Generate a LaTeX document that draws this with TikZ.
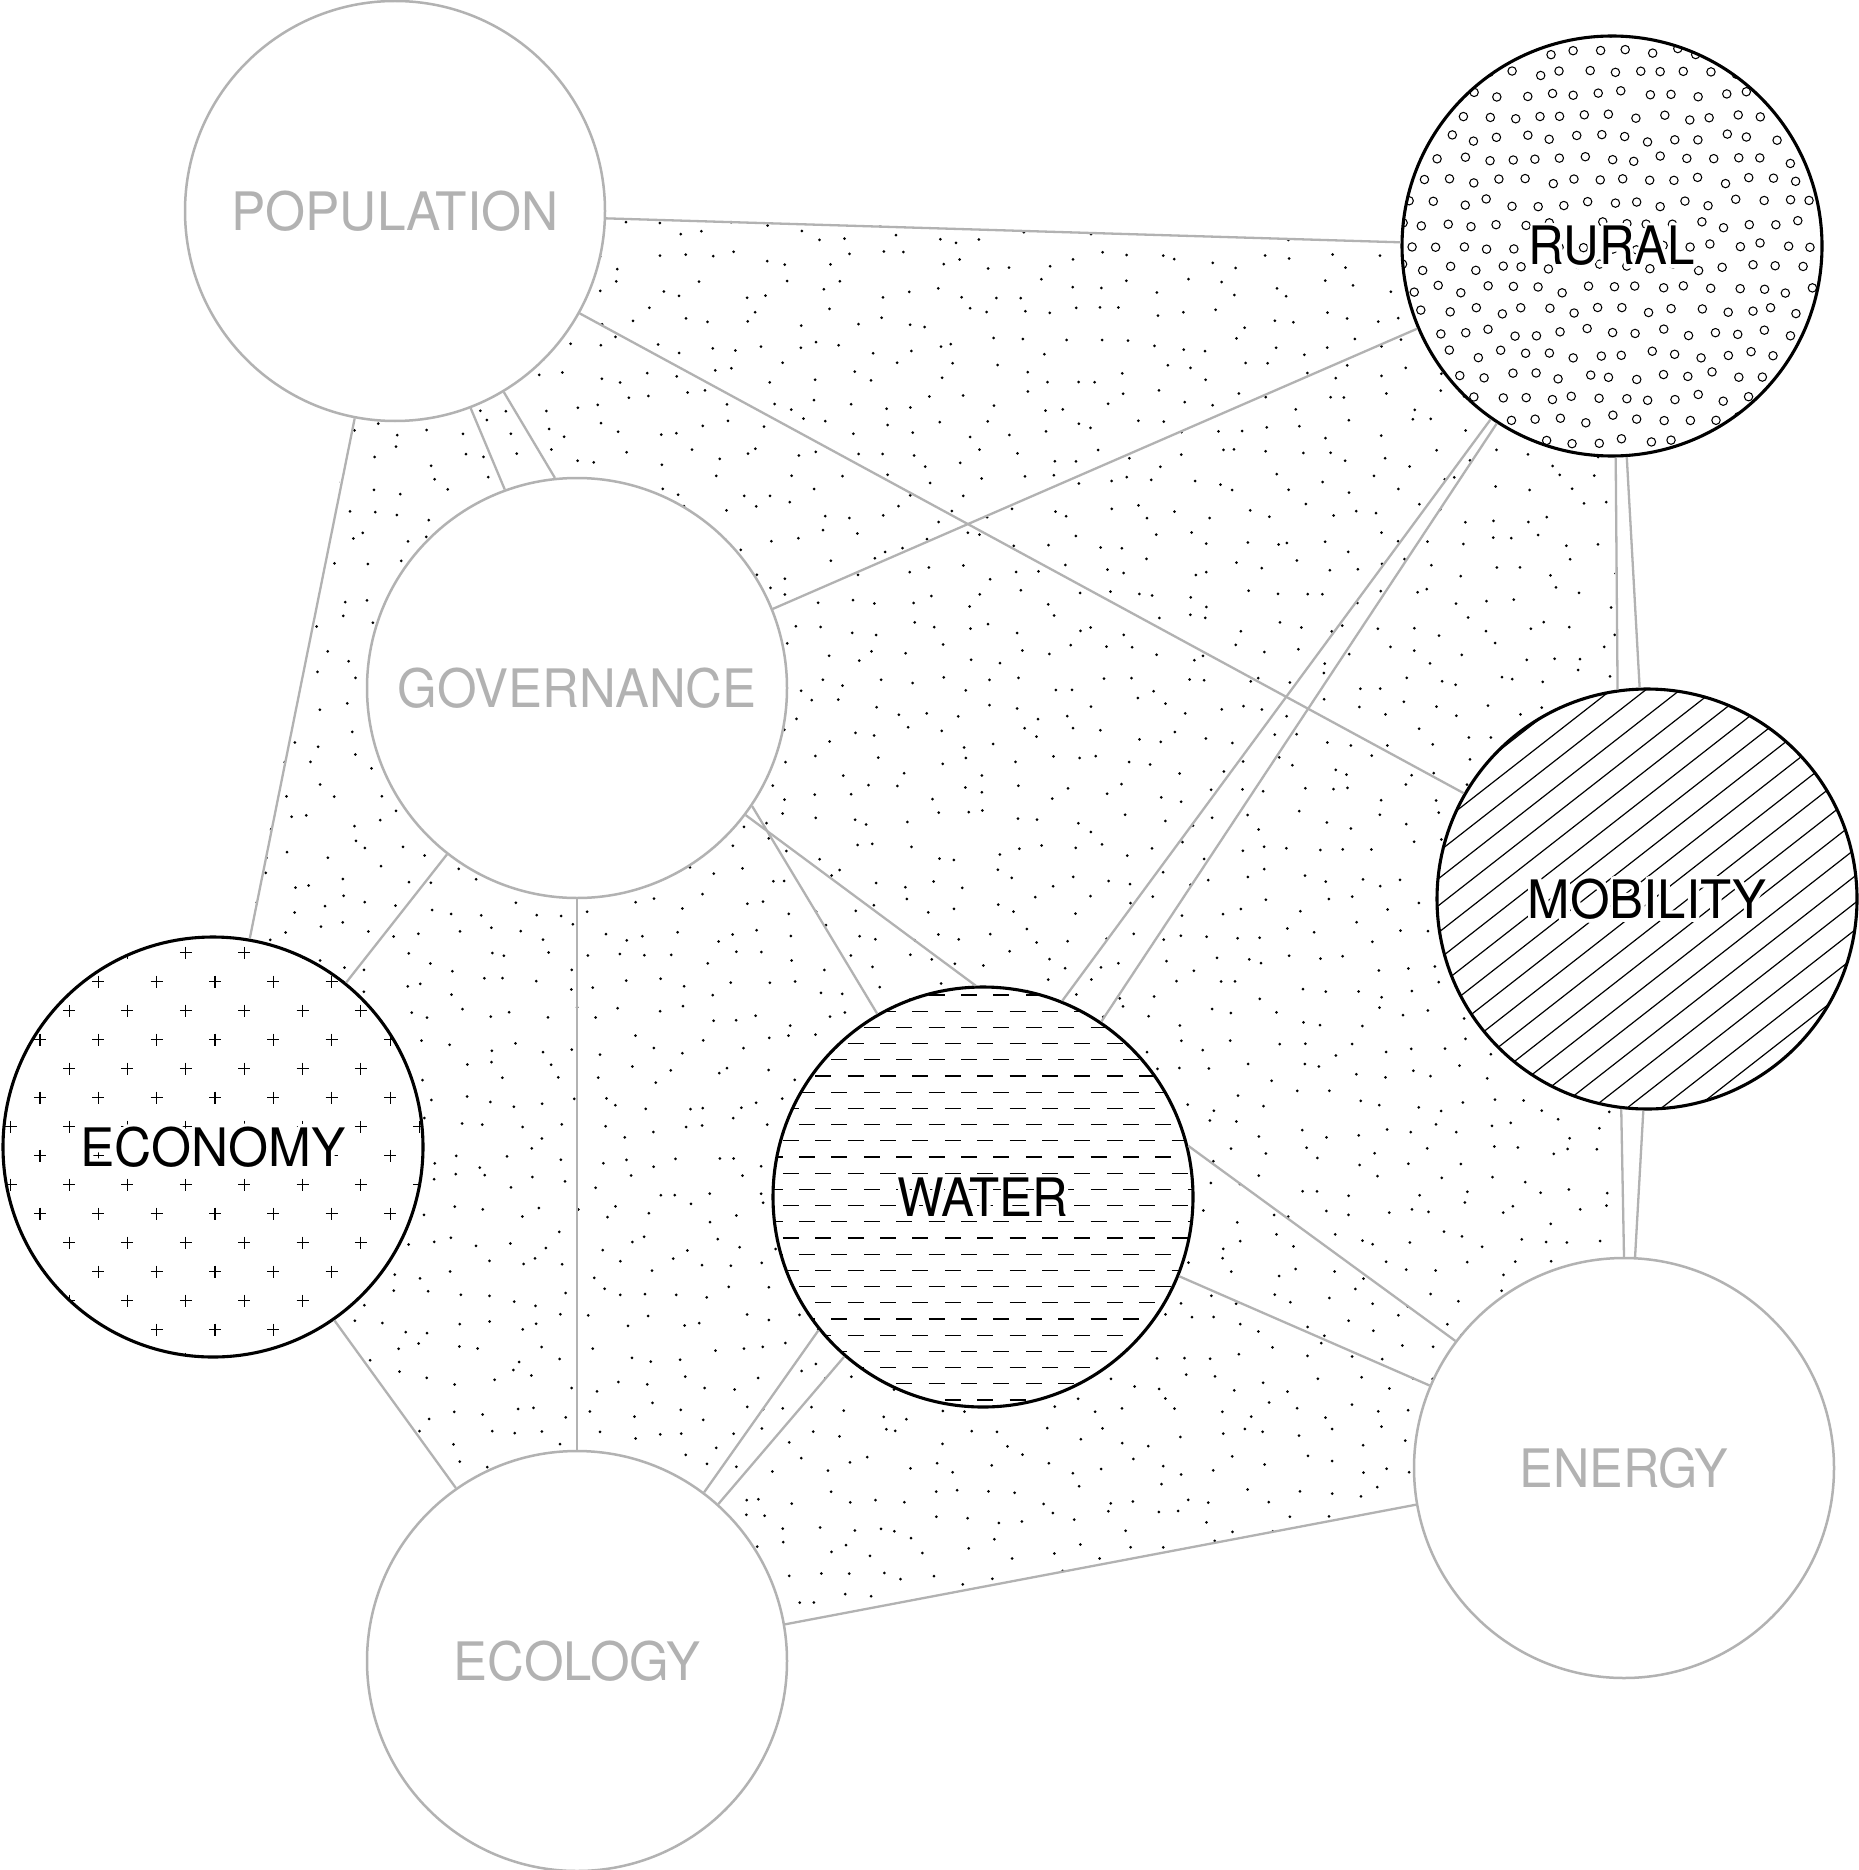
\documentclass[tikz,border=0pt]{standalone}
\usepackage{fontspec}
\setmainfont{TeX Gyre Heros}
\definecolor{lg}{RGB}{178,178,178}
\newcommand\halolbl[1]{\rlap{\color{white}\special{pdf:literal direct 2 Tr 7 w 1 j}#1\special{pdf:literal direct 0 Tr}}#1}
\begin{document}
\begin{tikzpicture}[x=1pt,y=-1pt,
  gline/.style={draw=lg, line width=2.3pt},
  gcirc/.style={circle, draw=lg, line width=2.5pt, fill=white, minimum size=420pt, inner sep=0pt},
  bcirc/.style={circle, draw=black, line width=3.1pt, fill=white, minimum size=420pt, inner sep=0pt},
  lbl/.style={font=\fontsize{53}{60}\selectfont, inner sep=0pt},
  glabel/.style={lbl, text=lg},
  blabel/.style={lbl, text=black},
  stip/.style={fill=black},
  hatch/.style={draw=black, line width=1.2pt},
]
\useasboundingbox[fill=white] (0,0) rectangle (1858,1870);

% ---------- stipple field ----------
\begin{scope}
\clip (395,211) -- (605,217) -- (1400,242) -- (1612,246) -- (1613,458) -- (1617,688)
  -- (1647,899) -- (1621,1110) -- (1623,1256) -- (1624,1468) -- (1417,1505)
  -- (787,1622) -- (577,1661) -- (453,1488) -- (334,1321) -- (213,1147)
  -- (248,939) -- (352,420) -- cycle;
\pgfmathsetseed{4711}
\foreach \i in {0,...,52}{
  \foreach \j in {0,...,52}{
    \pgfmathsetmacro\xx{205+\i*28+11*rand}
    \pgfmathsetmacro\yy{205+\j*28+11*rand}
    \fill[stip] (\xx,\yy) circle[radius=1.5pt];
  }}
\end{scope}

% ---------- circles ----------
\node[gcirc] (pop)    at (395,211)  {};
\node[bcirc] (rural)  at (1612,246) {};
\node[gcirc] (gov)    at (577,688)  {};
\node[bcirc] (mob)    at (1647,899) {};
\node[bcirc] (econ)   at (213,1147) {};
\node[bcirc] (water)  at (983,1197) {};
\node[gcirc] (energy) at (1624,1468){};
\node[gcirc] (ecol)   at (577,1661) {};

% ---------- connectors ----------
\draw[gline] (pop.-2) -- (rural.179);
\draw[gline] (pop.-29.4) -- (mob.150.2);
\draw[gline] (pop.-69) -- (gov.110.9);
\draw[gline] (pop.-59.5) -- (gov.96);
\draw[gline] (pop.-101.6) -- (econ.80.4);
\draw[gline] (gov.22.7) -- (rural.203.8);
\draw[gline] (gov.-128.3) -- (econ.51.8);
\draw[gline] (gov.-90) -- (ecol.90);
\draw[gline] (gov.-34.7) -- (water.120.8);
\draw[gline] (gov.-37.4) -- (water.92.7);
\draw[gline] (rural.235.3) -- (water.68.3);
\draw[gline] (rural.237.3) -- (water.56.5);
\draw[gline] (rural.-89.7) -- (mob.98.1);
\draw[gline] (rural.-86.8) -- (mob.92.7);
\draw[gline] (mob.-97) -- (energy.90.3);
\draw[gline] (mob.-91.9) -- (energy.87.6);
\draw[gline] (water.14.2) -- (energy.143.1);
\draw[gline] (water.-22.9) -- (energy.157.1);
\draw[gline] (water.219.5) -- (ecol.53.5);
\draw[gline] (water.229) -- (ecol.48.5);
\draw[gline] (econ.-55.2) -- (ecol.125.6);
\draw[gline] (ecol.10.5) -- (energy.190.1);

% ---------- RURAL: small open circles ----------
\begin{scope}
\clip (rural.center) circle[radius=210pt];
\pgfmathsetseed{99}
\foreach \i in {-10,...,10}{
  \foreach \j in {-11,...,11}{
    \pgfmathsetmacro\xx{1612+\i*25+mod(abs(\j),2)*12.5+4*rand}
    \pgfmathsetmacro\yy{246+\j*21.6+4*rand}
    \draw[line width=1.05pt] (\xx,\yy) circle[radius=4.2pt];
  }}
\end{scope}

% ---------- MOBILITY: diagonal hatch ----------
\begin{scope}
\clip (mob.center) circle[radius=210pt];
\foreach \k in {-10,...,10}{
  \pgfmathsetmacro\off{4+21.2*\k}
  \pgfmathsetmacro\cx{1647+\off*sin(38)}
  \pgfmathsetmacro\cy{899+\off*cos(38)}
  \draw[hatch] ({\cx-260*cos(38)},{\cy+260*sin(38)}) -- ({\cx+260*cos(38)},{\cy-260*sin(38)});
}
\end{scope}

% ---------- WATER: horizontal dashes ----------
\begin{scope}
\clip (water.center) circle[radius=210pt];
\foreach \j in {-1,...,27}{
  \pgfmathsetmacro\yy{995+16.2*\j}
  \pgfmathsetmacro\xs{880+16.2*mod(\j+1,2)}
  \foreach \m in {-5,...,10}{
    \pgfmathsetmacro\xa{\xs+32.4*\m}
    \draw[line width=1.3pt] (\xa,\yy) -- ++(16,0);
  }}
\end{scope}

% ---------- ECONOMY: plus signs ----------
\begin{scope}
\clip (econ.center) circle[radius=210pt];
\foreach \i in {-8,...,8}{
  \foreach \j in {-8,...,15}{
    \pgfmathtruncatemacro\myparity{mod(abs(\i+\j),2)}
    \ifnum\myparity=1
      \pgfmathsetmacro\xx{215+29.17*\i}
      \pgfmathsetmacro\yy{952.7+29*\j}
      \draw[line width=1.05pt] (\xx-6,\yy) -- (\xx+6,\yy) (\xx,\yy-6) -- (\xx,\yy+6);
    \fi
  }}
\end{scope}

% ---------- labels ----------
\node[glabel] (popl) at (pop.center) {\scalebox{0.97}[1]{POPULATION}};
\node[glabel] (govl) at (gov.center) {\scalebox{0.96}[1]{GOVERNANCE}};
\node[glabel] (enel) at (energy.center) {\scalebox{0.95}[1]{ENERGY}};
\node[glabel] (ecoll) at (ecol.center) {\scalebox{0.96}[1]{ECOLOGY}};

\node[blabel] (rurl) at (rural.center) {\halolbl{\scalebox{0.93}[1]{RURAL}}};
\node[blabel] (mobl) at (mob.center) {\halolbl{\scalebox{0.96}[1]{MOBILITY}}};
\node[blabel] (watl) at (water.center) {\halolbl{\scalebox{0.93}[1]{WATER}}};
\node[blabel] (ecnl) at (econ.center) {\halolbl{\scalebox{0.97}[1]{ECONOMY}}};
\end{tikzpicture}
\end{document}
